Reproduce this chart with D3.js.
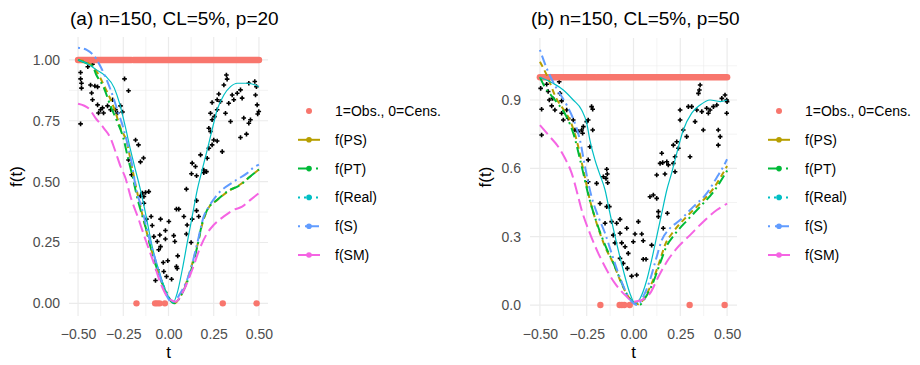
<!DOCTYPE html>
<html>
<head>
<meta charset="utf-8">
<script src="https://cdn.jsdelivr.net/npm/d3@7"></script>
<style>
  body { margin: 0; background: #fff; }
  svg text { font-family: "Liberation Sans", Arial, sans-serif; }
</style>
</head>
<body>
<svg id="chart" width="920" height="365"></svg>
<script>
// ---- data ----
const xTicks = [-0.5, -0.25, 0, 0.25, 0.5];
const xMinor = [-0.375, -0.125, 0.125, 0.375];
const yTicksA = [0, 0.25, 0.5, 0.75, 1];
const yMinorA = [0.125, 0.375, 0.625, 0.875];
const yTicksB = [0, 0.3, 0.6, 0.9];
const yMinorB = [0.15, 0.45, 0.75, 1.05];

const seriesNames = ["f(PS)", "f(PT)", "f(Real)", "f(S)", "f(SM)"];
const pointLabel = "1=Obs., 0=Cens.";

// censoring indicator: observed stretches (=1) and censored times (=0)
const obsSpans = [[-0.5, -0.205], [-0.194, 0.5]];
const censT = [-0.177, -0.074, -0.062, -0.049, -0.02, 0.3, 0.487];

// panel (a) p=20
const ptsA = [
  [-0.486,0.737],[-0.486,0.948],[-0.486,0.922],[-0.481,0.904],[-0.481,0.884],[-0.446,0.972],[-0.42,0.982],
  [-0.431,0.897],[-0.407,0.893],[-0.392,0.889],[-0.425,0.864],[-0.42,0.836],[-0.392,0.815],[-0.376,0.795],
  [-0.359,0.782],[-0.387,0.782],[-0.365,0.803],[-0.337,0.811],[-0.32,0.795],[-0.293,0.795],[-0.309,0.836],
  [-0.265,0.811],[-0.282,0.782],[-0.243,0.922],[-0.221,0.873],[-0.254,0.786],[-0.182,0.671],[-0.166,0.651],
  [-0.221,0.589],[-0.138,0.597],[-0.155,0.581],[-0.204,0.528],
  [-0.145,0.453],[-0.127,0.455],[-0.109,0.459],[-0.136,0.439],[-0.155,0.441],[-0.136,0.411],[-0.096,0.357],
  [-0.044,0.346],[0.002,0.336],[-0.122,0.346],[-0.09,0.32],[-0.017,0.299],[-0.048,0.281],[-0.081,0.274],
  [-0.062,0.254],[-0.017,0.264],[0.035,0.254],[0.029,0.278],[0.051,0.195],[-0.004,0.175],[-0.029,0.168],
  [0.044,0.151],[0.048,0.143],[-0.062,0.138],[-0.026,0.131],[-0.011,0.11],[-0.072,0.094],[0.017,0.099],
  [-0.054,0.22],[-0.044,0.233],[0.044,0.387],[0.057,0.387],[0.099,0.469],[0.085,0.357],[0.103,0.322],
  [0.099,0.285],[0.131,0.346],[0.155,0.381],[0.167,0.357],[0.125,0.25],[0.155,0.422],[0.127,0.532],
  [0.155,0.524],[0.195,0.537],[0.21,0.541],
  [0.131,0.576],[0.149,0.562],[0.177,0.61],[0.195,0.548],[0.214,0.596],[0.223,0.637],[0.241,0.651],
  [0.25,0.671],[0.232,0.706],[0.223,0.719],[0.241,0.754],[0.254,0.767],[0.232,0.781],[0.269,0.795],
  [0.241,0.825],[0.269,0.836],[0.287,0.829],[0.278,0.86],[0.306,0.897],[0.32,0.938],[0.324,0.921],
  [0.297,0.623],[0.269,0.667],[0.315,0.781],[0.343,0.747],[0.333,0.822],[0.361,0.836],[0.38,0.863],
  [0.352,0.856],[0.398,0.877],[0.407,0.843],[0.398,0.681],[0.416,0.761],[0.431,0.695],[0.444,0.74],
  [0.444,0.904],[0.477,0.911],[0.486,0.89],[0.481,0.856],[0.49,0.815],[0.499,0.788],[0.493,0.778],[0.453,0.754]
];
const psA = [[-0.5,1.0],[-0.45,0.99],[-0.4,0.955],[-0.35,0.885],[-0.3,0.8],[-0.265,0.72],[-0.228,0.655],
  [-0.21,0.59],[-0.18,0.48],[-0.14,0.35],[-0.1,0.235],[-0.06,0.135],[-0.017,0.05],[0.03,0.0],[0.08,0.05],
  [0.13,0.16],[0.16,0.24],[0.19,0.335],[0.22,0.39],[0.27,0.425],[0.33,0.46],[0.4,0.49],[0.45,0.52],[0.5,0.55]];
const ptA = [[-0.5,1.0],[-0.45,0.985],[-0.42,0.975],[-0.4,0.94],[-0.36,0.89],[-0.32,0.81],[-0.28,0.74],
  [-0.25,0.68],[-0.225,0.6],[-0.2,0.525],[-0.17,0.425],[-0.127,0.315],[-0.1,0.233],[-0.062,0.138],
  [-0.017,0.055],[0.03,0.0],[0.076,0.042],[0.131,0.151],[0.159,0.233],[0.186,0.329],[0.214,0.384],
  [0.269,0.425],[0.324,0.459],[0.398,0.487],[0.45,0.52],[0.5,0.55]];
const realA = [[-0.5,1.0],[-0.45,0.985],[-0.4,0.96],[-0.35,0.935],[-0.3,0.885],[-0.27,0.82],[-0.24,0.73],
  [-0.21,0.63],[-0.18,0.54],[-0.155,0.466],[-0.127,0.37],[-0.09,0.233],[-0.054,0.138],[-0.017,0.055],
  [0.01,0.014],[0.025,0.002],[0.048,0.042],[0.076,0.138],[0.103,0.247],[0.131,0.357],[0.159,0.466],
  [0.186,0.548],[0.214,0.63],[0.241,0.713],[0.269,0.795],[0.306,0.856],[0.343,0.89],[0.38,0.904],
  [0.435,0.904],[0.48,0.897],[0.5,0.89]];
const sA = [[-0.5,1.05],[-0.45,1.04],[-0.4,1.005],[-0.376,0.973],[-0.32,0.877],[-0.283,0.795],[-0.247,0.713],
  [-0.219,0.63],[-0.2,0.562],[-0.182,0.48],[-0.145,0.384],[-0.109,0.274],[-0.062,0.151],[-0.017,0.042],
  [0.02,0.005],[0.066,0.042],[0.122,0.138],[0.159,0.247],[0.195,0.357],[0.223,0.397],[0.269,0.446],
  [0.361,0.5],[0.435,0.535],[0.471,0.558],[0.5,0.57]];
const smA = [[-0.5,0.82],[-0.44,0.8],[-0.403,0.761],[-0.357,0.719],[-0.32,0.678],[-0.293,0.623],[-0.265,0.562],
  [-0.238,0.515],[-0.21,0.439],[-0.164,0.343],[-0.127,0.261],[-0.081,0.165],[-0.044,0.083],[-0.007,0.028],
  [0.039,0.007],[0.085,0.055],[0.131,0.138],[0.177,0.233],[0.214,0.288],[0.25,0.322],[0.306,0.357],
  [0.361,0.384],[0.407,0.397],[0.453,0.425],[0.5,0.453]];

// panel (b) p=50
const ptsB = [
  [-0.496,0.951],[-0.491,0.859],[-0.491,0.746],[-0.464,0.969],[-0.456,0.937],[-0.45,0.9],[-0.432,0.907],
  [-0.437,0.874],[-0.42,0.856],[-0.397,0.98],[-0.393,0.929],[-0.384,0.896],[-0.384,0.842],[-0.375,0.812],
  [-0.357,0.856],[-0.349,0.82],[-0.322,0.812],[-0.313,0.768],[-0.295,0.761],[-0.277,0.768],[-0.268,0.783],
  [-0.25,0.805],[-0.242,0.812],[-0.224,0.871],[-0.218,0.859],[-0.233,0.695],[-0.218,0.768],[-0.272,0.754],
  [-0.242,0.637],[-0.143,0.596],[-0.161,0.563],
  [0.151,0.666],[0.156,0.625],[0.178,0.629],[0.186,0.615],[0.213,0.622],[0.222,0.651],[0.24,0.688],
  [0.213,0.702],[0.231,0.717],[0.249,0.856],[0.249,0.812],[0.266,0.768],[0.293,0.871],[0.311,0.871],
  [0.284,0.739],[0.302,0.651],[0.329,0.805],[0.338,0.856],[0.356,0.966],[0.352,0.944],[0.347,0.929],
  [0.365,0.849],[0.373,0.768],[0.391,0.864],[0.4,0.842],[0.409,0.856],[0.427,0.871],[0.445,0.878],
  [0.453,0.768],[0.463,0.739],[0.453,0.702],[0.489,0.922],[0.498,0.9],[0.5,0.893],[0.498,0.842],[0.472,0.907],
  [-0.242,0.541],[-0.147,0.556],[-0.138,0.537],[-0.129,0.432],[-0.14,0.575],[-0.152,0.359],[-0.117,0.366],
  [-0.09,0.359],[-0.072,0.376],[-0.108,0.307],[-0.072,0.315],[-0.099,0.273],[-0.063,0.273],[-0.036,0.337],
  [0.008,0.312],[0.026,0.366],[0.044,0.312],[0.052,0.282],[-0.001,0.278],[-0.045,0.256],[-0.072,0.205],
  [-0.028,0.227],[-0.055,0.183],[-0.033,0.161],[0.052,0.201],[0.067,0.201],[-0.01,0.127],[0.017,0.132],
  [0.097,0.263],[0.088,0.475],[0.106,0.483],[0.124,0.468],[0.133,0.41],[0.133,0.388],[0.181,0.403],
  [0.159,0.337],[0.168,0.575],[0.222,0.585],[0.124,0.571],[0.142,0.622],[-0.197,0.534],[-0.179,0.446],[-0.143,0.432]
];
const psB = [[-0.5,1.068],[-0.464,1.01],[-0.411,0.905],[-0.366,0.849],[-0.34,0.812],[-0.304,0.724],
  [-0.268,0.593],[-0.233,0.461],[-0.197,0.359],[-0.152,0.256],[-0.108,0.183],[-0.072,0.11],[-0.028,0.037],
  [0.026,0.004],[0.062,0.037],[0.097,0.095],[0.142,0.198],[0.168,0.263],[0.213,0.322],[0.284,0.388],
  [0.356,0.446],[0.427,0.512],[0.5,0.61]];
const ptB = [[-0.5,1.0],[-0.477,0.961],[-0.44,0.92],[-0.4,0.88],[-0.36,0.83],[-0.32,0.75],[-0.28,0.62],
  [-0.24,0.48],[-0.2,0.37],[-0.15,0.26],[-0.105,0.18],[-0.07,0.11],[-0.03,0.04],[0.03,0.0],[0.065,0.035],
  [0.1,0.09],[0.145,0.19],[0.175,0.255],[0.22,0.31],[0.29,0.375],[0.36,0.435],[0.43,0.5],[0.5,0.59]];
const realB = [[-0.5,1.0],[-0.429,0.973],[-0.375,0.944],[-0.322,0.9],[-0.277,0.856],[-0.25,0.798],
  [-0.233,0.724],[-0.206,0.637],[-0.183,0.58],[-0.152,0.505],[-0.126,0.403],[-0.09,0.271],[-0.055,0.154],
  [-0.019,0.051],[0.008,0.007],[0.035,0.029],[0.071,0.11],[0.097,0.198],[0.124,0.3],[0.151,0.403],
  [0.178,0.505],[0.204,0.58],[0.231,0.666],[0.266,0.768],[0.311,0.842],[0.356,0.878],[0.409,0.9],
  [0.463,0.893],[0.5,0.9]];
const sB = [[-0.5,1.12],[-0.456,1.024],[-0.411,0.951],[-0.357,0.878],[-0.313,0.798],[-0.286,0.724],
  [-0.259,0.607],[-0.224,0.475],[-0.188,0.388],[-0.152,0.315],[-0.117,0.227],[-0.081,0.139],[-0.045,0.066],
  [-0.01,0.015],[0.02,0.0],[0.052,0.037],[0.088,0.11],[0.124,0.212],[0.151,0.285],[0.186,0.329],
  [0.249,0.373],[0.32,0.432],[0.391,0.49],[0.445,0.56],[0.475,0.6],[0.5,0.64]];
const smB = [[-0.5,0.79],[-0.447,0.739],[-0.402,0.695],[-0.366,0.644],[-0.33,0.578],[-0.3,0.49],
  [-0.277,0.417],[-0.233,0.315],[-0.188,0.227],[-0.143,0.154],[-0.099,0.095],[-0.045,0.044],[0.0,0.015],
  [0.044,0.022],[0.088,0.051],[0.133,0.124],[0.178,0.19],[0.231,0.249],[0.302,0.307],[0.373,0.366],
  [0.445,0.417],[0.5,0.445]];

// ---- styles ----
const pointColor = "#F8766D";
const lineColors = ["#B79F00", "#00BA38", "#00BFC4", "#619CFF", "#F564E3"];
const lineDash = ["6,4", "10,4,2,4", null, "2,4,10,4", "12,5"];
const lineWidth = [2, 2, 1.2, 2, 2];
const keyDash = [null, "13,5,2,10", "2,4", "2,5,14,6", null];

const svg = d3.select("#chart");
const gridColor = "#EBEBEB";

function drawPanel(cfg) {
  const x = d3.scaleLinear().domain(cfg.xDomain).range([cfg.left, cfg.right]);
  const y = d3.scaleLinear().domain(cfg.yDomain).range([cfg.bottom, cfg.top]);
  const g = svg.append("g");

  // grid: minor then major
  g.selectAll(".xmin").data(xMinor).join("line")
    .attr("x1", d => x(d)).attr("x2", d => x(d)).attr("y1", cfg.top).attr("y2", cfg.bottom)
    .attr("stroke", gridColor).attr("stroke-width", 0.6);
  g.selectAll(".ymin").data(cfg.yMinor).join("line")
    .attr("x1", cfg.left).attr("x2", cfg.right).attr("y1", d => y(d)).attr("y2", d => y(d))
    .attr("stroke", gridColor).attr("stroke-width", 0.6);
  g.selectAll(".xmaj").data(xTicks).join("line")
    .attr("x1", d => x(d)).attr("x2", d => x(d)).attr("y1", cfg.top).attr("y2", cfg.bottom)
    .attr("stroke", gridColor).attr("stroke-width", 1.2);
  g.selectAll(".ymaj").data(cfg.yTicks).join("line")
    .attr("x1", cfg.left).attr("x2", cfg.right).attr("y1", d => y(d)).attr("y2", d => y(d))
    .attr("stroke", gridColor).attr("stroke-width", 1.2);

  // axes (labels only, theme_minimal)
  const xAxis = g.append("g").attr("transform", `translate(0,${cfg.bottom})`)
    .call(d3.axisBottom(x).tickValues(xTicks).tickFormat(d3.format(".2f")).tickSize(0).tickPadding(13));
  const yAxis = g.append("g").attr("transform", `translate(${cfg.left},0)`)
    .call(d3.axisLeft(y).tickValues(cfg.yTicks).tickFormat(d3.format(cfg.yFmt)).tickSize(0).tickPadding(9));
  [xAxis, yAxis].forEach(a => {
    a.select(".domain").remove();
    a.selectAll("text").attr("fill", "#4D4D4D").style("font-size", "14px")
      .style("font-family", "'Liberation Sans', Arial, sans-serif");
  });

  // black data points (+)
  g.selectAll(".pt").data(cfg.pts).join("path")
    .attr("d", d => `M${x(d[0]) - 2.3},${y(d[1])}h4.6M${x(d[0])},${y(d[1]) - 2.3}v4.6`)
    .attr("stroke", "#000").attr("stroke-width", 1.6).attr("fill", "none");

  // censoring indicator points
  const flat = d3.line().x(d => x(d)).y(() => y(1));
  g.selectAll(".obs").data(obsSpans).join("path")
    .attr("d", d => flat(d))
    .attr("stroke", pointColor).attr("stroke-width", 6.5).attr("stroke-linecap", "round").attr("fill", "none");
  g.selectAll(".cens").data(censT).join("circle")
    .attr("cx", d => x(d)).attr("cy", y(0)).attr("r", 3.2).attr("fill", pointColor);

  // estimated curves
  const line = d3.line().x(d => x(d[0])).y(d => y(d[1])).curve(d3.curveMonotoneX);
  cfg.series.forEach((s, i) => {
    g.append("path").datum(s)
      .attr("d", line)
      .attr("fill", "none")
      .attr("stroke", lineColors[i])
      .attr("stroke-width", lineWidth[i])
      .attr("stroke-dasharray", lineDash[i]);
  });

  // titles
  svg.append("text").attr("x", cfg.left + 1).attr("y", 25)
    .style("font-size", "19px").attr("fill", "#000").text(cfg.title);
  svg.append("text").attr("x", (cfg.left + cfg.right) / 2).attr("y", 358)
    .attr("text-anchor", "middle").style("font-size", "17px").text("t");
  svg.append("text")
    .attr("transform", `translate(${cfg.yTitleX},${(cfg.top + cfg.bottom) / 2}) rotate(-90)`)
    .attr("text-anchor", "middle").style("font-size", "17px").text("f(t)");

  // legend
  const lg = svg.append("g");
  const rowY = i => cfg.legendTop + i * 28.8;
  lg.append("circle").attr("cx", cfg.keyX + 11).attr("cy", rowY(0)).attr("r", 3).attr("fill", pointColor);
  lg.append("text").attr("x", cfg.keyX + 37).attr("y", rowY(0)).attr("dy", "0.35em")
    .style("font-size", "14px").attr("fill", "#000").text(pointLabel);
  seriesNames.forEach((name, i) => {
    const yy = rowY(i + 1);
    lg.append("line").attr("x1", cfg.keyX).attr("x2", cfg.keyX + 22).attr("y1", yy).attr("y2", yy)
      .attr("stroke", lineColors[i]).attr("stroke-width", 2).attr("stroke-dasharray", keyDash[i]);
    lg.append("circle").attr("cx", cfg.keyX + 11).attr("cy", yy).attr("r", 2.8).attr("fill", lineColors[i]);
    lg.append("text").attr("x", cfg.keyX + 37).attr("y", yy).attr("dy", "0.35em")
      .style("font-size", "14px").attr("fill", "#000").text(name);
  });
}

drawPanel({
  title: "(a) n=150, CL=5%, p=20",
  left: 69, right: 268, top: 37, bottom: 316,
  xDomain: [-0.55, 0.55], yDomain: [-0.052, 1.094],
  yTicks: yTicksA, yMinor: yMinorA, yFmt: ".2f",
  pts: ptsA, series: [psA, ptA, realA, sA, smA],
  yTitleX: 22, keyX: 298, legendTop: 111
});

drawPanel({
  title: "(b) n=150, CL=5%, p=50",
  left: 530, right: 737, top: 38, bottom: 316,
  xDomain: [-0.553, 0.553], yDomain: [-0.048, 1.172],
  yTicks: yTicksB, yMinor: yMinorB, yFmt: ".1f",
  pts: ptsB, series: [psB, ptB, realB, sB, smB],
  yTitleX: 491, keyX: 768, legendTop: 111
});
</script>
</body>
</html>
